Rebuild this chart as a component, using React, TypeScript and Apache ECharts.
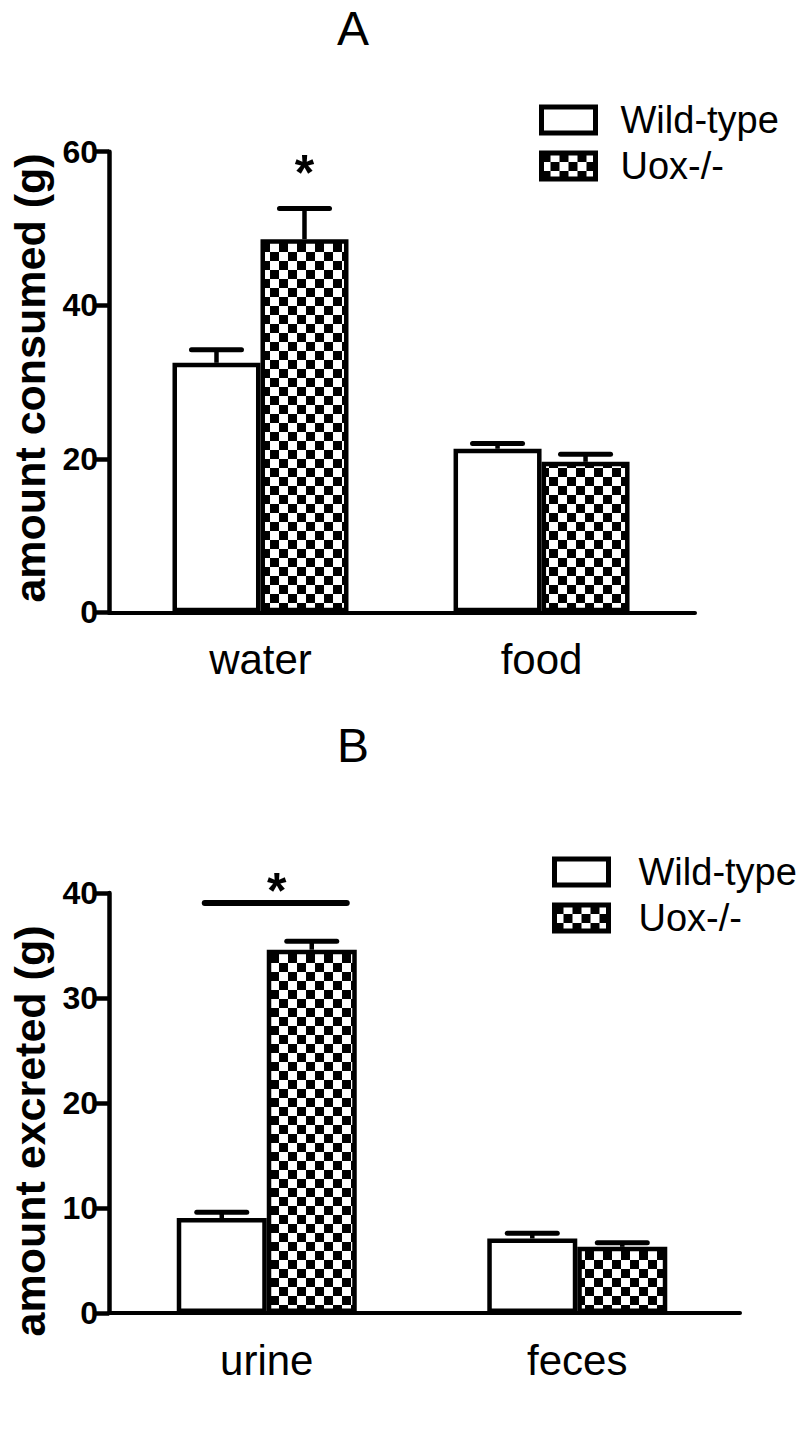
import React, { useEffect, useRef } from "react";
import * as echarts from "echarts";

// ---------- data ----------
const seriesNames = ["Wild-type", "Uox-/-"];

const categoriesA = ["water", "food"];
const categoryIndexA = [0, 1];
const wildTypeA = [32.5, 21.3];
const wildTypeErrA = [34.2, 22.0];
const uoxA = [48.6, 19.6];
const uoxErrA = [52.6, 20.6];
const yMinA = 0;
const yMaxA = 60;
const yStepA = 20;
const xRangeA = [-0.539, 1.546];
const starA = [[0, 58.7]]; // [category index, value] above Uox-/- water

const categoriesB = ["urine", "feces"];
const categoryIndexB = [0, 1];
const wildTypeB = [9.05, 7.1];
const wildTypeErrB = [9.6, 7.6];
const uoxB = [34.6, 6.3];
const uoxErrB = [35.4, 6.7];
const yMinB = 0;
const yMaxB = 40;
const yStepB = 10;
const xRangeB = [-0.508, 1.524];
const sigLineB = [[0, 39.05, 41.2]]; // [category index, line value, star value]

const titles = ["A", "B"];
const yNames = ["amount consumed (g)", "amount excreted (g)"];

// ---------- styles ----------
const FONT = "'Liberation Sans', Arial, Helvetica, sans-serif";
const BAR_W = [88, 90];
const CAP_W = 50;

function makeChecker(size: number) {
  const c = document.createElement("canvas");
  c.width = size * 2;
  c.height = size * 2;
  const ctx = c.getContext("2d")!;
  ctx.fillStyle = "#fff";
  ctx.fillRect(0, 0, size * 2, size * 2);
  ctx.fillStyle = "#000";
  ctx.fillRect(0, 0, size, size);
  ctx.fillRect(size, size, size, size);
  return c;
}

function errorSeries(axis: number, xs: number[], values: number[], errs: number[], offset: number) {
  return {
    type: "custom",
    xAxisIndex: axis,
    yAxisIndex: axis,
    silent: true,
    z: 3,
    data: values.map((v, i) => [xs[i], v, errs[i]]),
    encode: { x: 0, y: [1, 2] },
    renderItem: (params: any, api: any) => {
      const i = api.value(0);
      const base = api.coord([i, api.value(1)]);
      const top = api.coord([i, api.value(2)]);
      const x = base[0] + offset;
      return {
        type: "group",
        children: [
          {
            type: "line",
            shape: { x1: x, y1: base[1], x2: x, y2: top[1] },
            style: { stroke: "#000", lineWidth: 4.5 },
          },
          {
            type: "line",
            shape: { x1: x - CAP_W / 2, y1: top[1], x2: x + CAP_W / 2, y2: top[1] },
            style: { stroke: "#000", lineWidth: 5, lineCap: "round" },
          },
        ],
      };
    },
  };
}

export default function App() {
  const ref = useRef<HTMLDivElement>(null);

  useEffect(() => {
    if (!ref.current) return;
    const chart = echarts.init(ref.current, null, { renderer: "svg" });
    const checker = makeChecker(9);
    const pattern: any = { image: checker, repeat: "repeat", imageWidth: 18, imageHeight: 18 };

    const wtStyle = { color: "#fff", borderColor: "#000", borderWidth: 4.5 };
    const uoxStyle = { color: pattern, borderColor: "#000", borderWidth: 4.5 };

    const xAxisBase = (cats: string[], idx: number, range: number[]) => ({
      type: "value",
      gridIndex: idx,
      min: range[0],
      max: range[1],
      axisLine: { show: true, onZero: false, lineStyle: { color: "#000", width: 4 } },
      axisTick: { show: false },
      splitLine: { show: false },
      axisLabel: {
        color: "#000",
        fontSize: 42,
        fontFamily: FONT,
        margin: 26,
        customValues: cats.map((_, i) => i),
        formatter: (v: number) => cats[Math.round(v)] ?? "",
      },
    });
    const yAxisBase = (idx: number, min: number, max: number, step: number, pad: number[]) => ({
      type: "value",
      gridIndex: idx,
      min,
      max,
      interval: step,
      name: yNames[idx],
      nameLocation: "middle",
      nameRotate: 90,
      nameGap: 58,
      nameTextStyle: { color: "#000", fontSize: 43, fontWeight: "bold", fontFamily: FONT, padding: pad },
      axisLine: { show: true, onZero: false, lineStyle: { color: "#000", width: 4.5 } },
      axisTick: { show: true, length: 13, lineStyle: { color: "#000", width: 4.5 } },
      splitLine: { show: false },
      axisLabel: { color: "#000", fontSize: 32, fontWeight: "bold", fontFamily: FONT, margin: 11 },
    });

    const legendBase = (left: number, top: number, textGap: number) => ({
      data: seriesNames,
      orient: "vertical",
      left,
      top,
      padding: 0,
      itemWidth: 54,
      itemHeight: 26,
      itemGap: 8,
      icon: "rect",
      selectedMode: false,
      itemStyle: { borderColor: "#000", borderWidth: 5 },
      textStyle: { color: "#000", fontSize: 38, fontFamily: FONT, padding: [0, 0, 0, textGap] },
    });

    const titleStyle = { fontSize: 48, fontWeight: "normal", color: "#000", fontFamily: FONT, lineHeight: 48 };

    const option: any = {
      animation: false,
      backgroundColor: "#fff",
      title: [
        { text: titles[0], left: 353, top: 4, padding: 0, textAlign: "center", textStyle: titleStyle },
        { text: titles[1], left: 353, top: 721, padding: 0, textAlign: "center", textStyle: titleStyle },
      ],
      legend: [legendBase(539, 101, 20), legendBase(552, 853, 25)],
      grid: [
        { left: 107, top: 151.7, width: 588, height: 460.6 },
        { left: 108, top: 893, width: 632, height: 420 },
      ],
      xAxis: [xAxisBase(categoriesA, 0, xRangeA), xAxisBase(categoriesB, 1, xRangeB)],
      yAxis: [
        yAxisBase(0, yMinA, yMaxA, yStepA, [0, 0, 0, 8]),
        yAxisBase(1, yMinB, yMaxB, yStepB, [0, 56, 0, 0]),
      ],
      series: [
        { type: "bar", name: seriesNames[0], xAxisIndex: 0, yAxisIndex: 0, data: wildTypeA.map((v, i) => [categoryIndexA[i], v]), barWidth: BAR_W[0], barGap: "0%", itemStyle: wtStyle },
        { type: "bar", name: seriesNames[1], xAxisIndex: 0, yAxisIndex: 0, data: uoxA.map((v, i) => [categoryIndexA[i], v]), barWidth: BAR_W[0], barGap: "0%", itemStyle: uoxStyle },
        { type: "bar", name: seriesNames[0], xAxisIndex: 1, yAxisIndex: 1, data: wildTypeB.map((v, i) => [categoryIndexB[i], v]), barWidth: BAR_W[1], barGap: "0%", itemStyle: wtStyle },
        { type: "bar", name: seriesNames[1], xAxisIndex: 1, yAxisIndex: 1, data: uoxB.map((v, i) => [categoryIndexB[i], v]), barWidth: BAR_W[1], barGap: "0%", itemStyle: uoxStyle },
        errorSeries(0, categoryIndexA, wildTypeA, wildTypeErrA, -BAR_W[0] / 2),
        errorSeries(0, categoryIndexA, uoxA, uoxErrA, BAR_W[0] / 2),
        errorSeries(1, categoryIndexB, wildTypeB, wildTypeErrB, -BAR_W[1] / 2),
        errorSeries(1, categoryIndexB, uoxB, uoxErrB, BAR_W[1] / 2),
        {
          type: "custom",
          xAxisIndex: 0,
          yAxisIndex: 0,
          silent: true,
          data: starA,
          renderItem: (params: any, api: any) => {
            const p = api.coord([api.value(0), api.value(1)]);
            return {
              type: "text",
              x: p[0] + BAR_W[0] / 2,
              y: p[1] + 11,
              style: { text: "*", fontSize: 50, fontWeight: "bold", fontFamily: FONT, fill: "#000", align: "center", verticalAlign: "middle" },
            };
          },
        },
        {
          type: "custom",
          xAxisIndex: 1,
          yAxisIndex: 1,
          silent: true,
          data: sigLineB,
          encode: { x: 0, y: [1, 2] },
          renderItem: (params: any, api: any) => {
            const p = api.coord([api.value(0), api.value(1)]);
            const s = api.coord([api.value(0), api.value(2)]);
            return {
              type: "group",
              children: [
                {
                  type: "line",
                  shape: { x1: p[0] - 62, y1: p[1], x2: p[0] + 80, y2: p[1] },
                  style: { stroke: "#000", lineWidth: 6, lineCap: "round" },
                },
                {
                  type: "text",
                  x: s[0] + 10,
                  y: s[1] + 11,
                  style: { text: "*", fontSize: 50, fontWeight: "bold", fontFamily: FONT, fill: "#000", align: "center", verticalAlign: "middle" },
                },
              ],
            };
          },
        },
      ],
    };
    chart.setOption(option);
    return () => chart.dispose();
  }, []);

  return (
    <div
      ref={ref}
      style={{ position: "absolute", left: 0, top: 0, width: 800, height: 1449, background: "#fff" }}
    />
  );
}
